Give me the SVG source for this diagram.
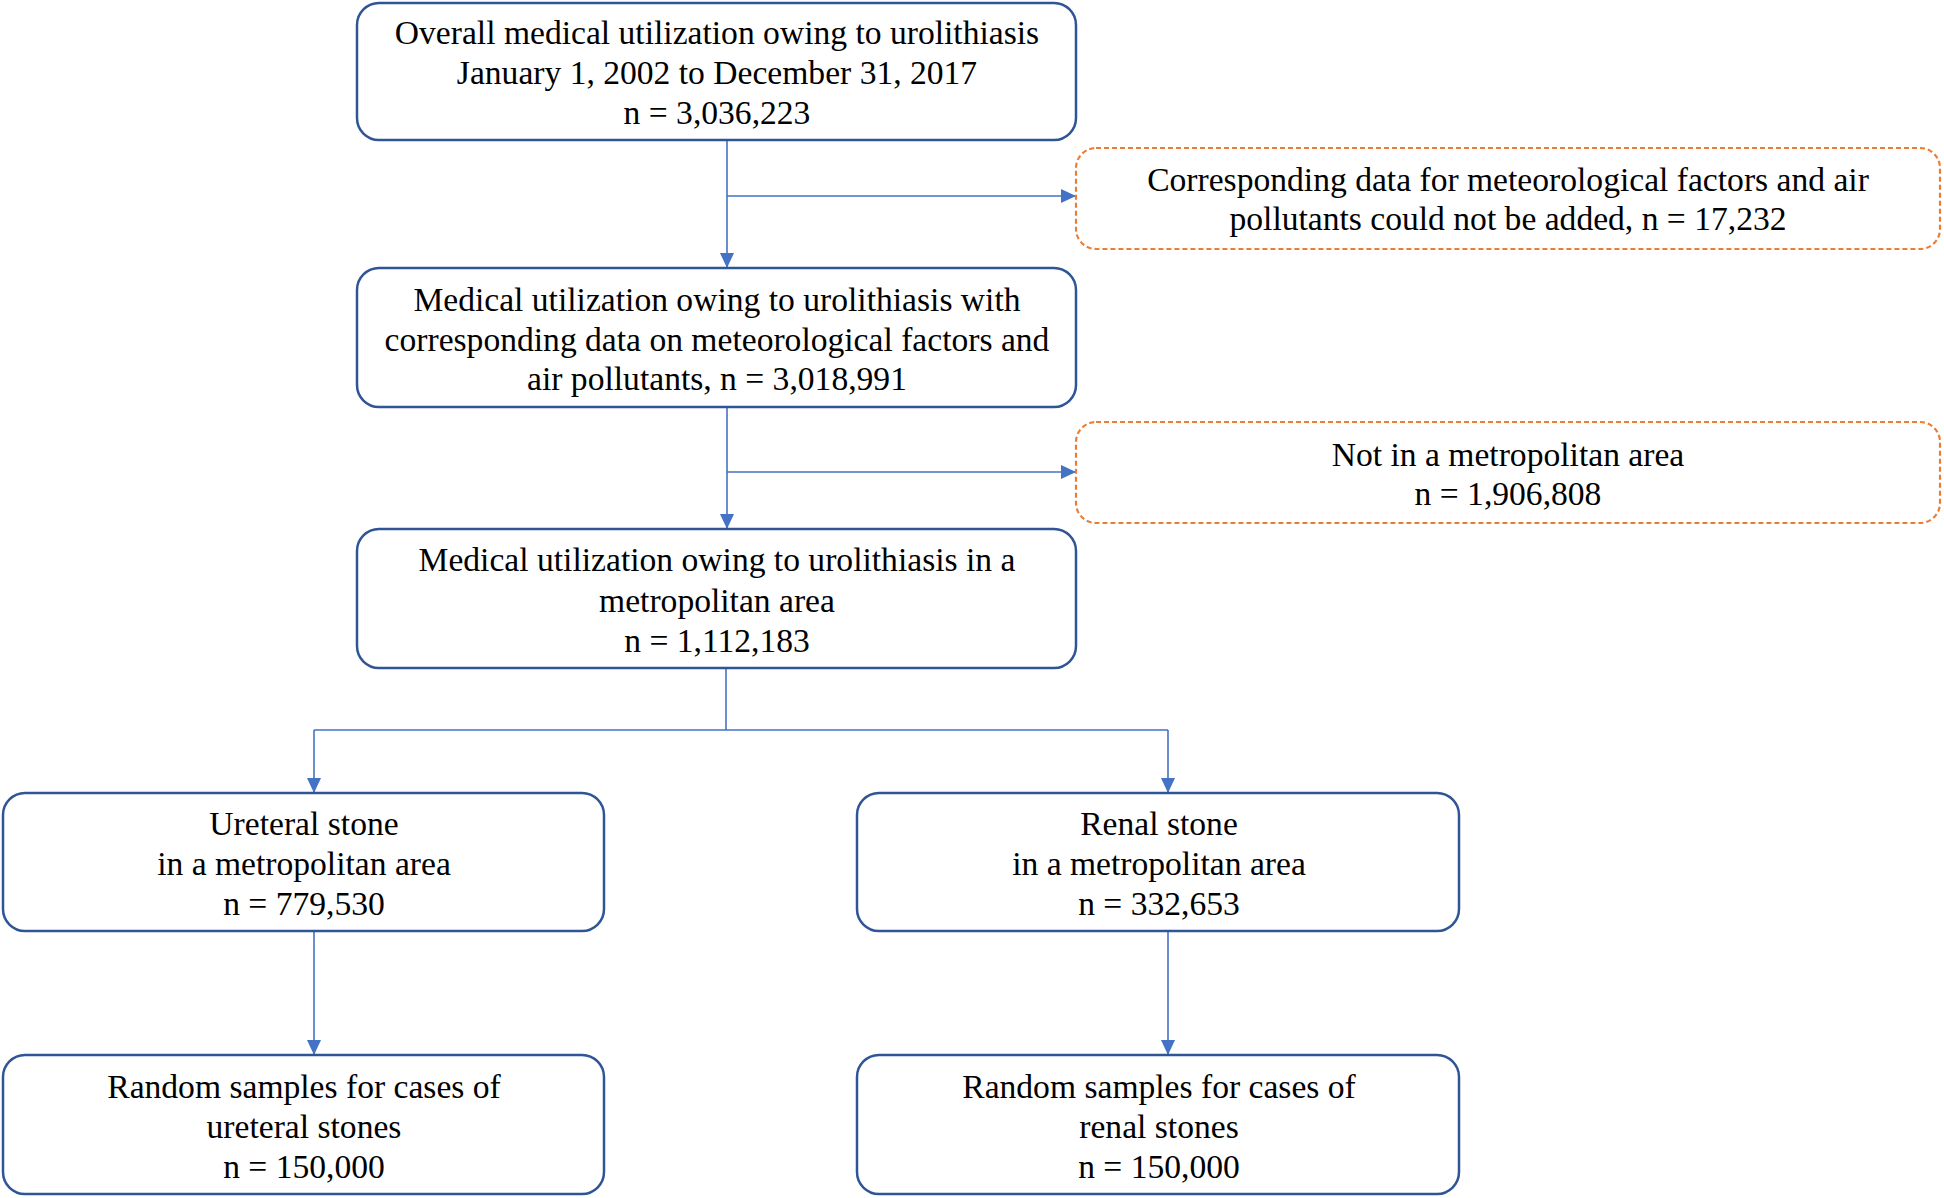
<svg xmlns="http://www.w3.org/2000/svg" width="1944" height="1198" viewBox="0 0 1944 1198">
<style>
.box{fill:#fff;stroke:#2F5597;stroke-width:2.5}
.dbox{fill:#fff;stroke:#ED7D31;stroke-width:2.2;stroke-dasharray:5 3}
.t{font-family:"Liberation Serif","Times New Roman",serif;font-size:33.6px;fill:#000;text-anchor:middle}
.c{fill:none;stroke:#4472C4;stroke-width:1.6}
</style>
<defs>
<marker id="ah" viewBox="0 0 10 10" refX="10" refY="5" markerWidth="15" markerHeight="14" markerUnits="userSpaceOnUse" orient="auto" preserveAspectRatio="none">
<path d="M0,0 L10,5 L0,10 z" fill="#4472C4"/>
</marker>
</defs>
<rect width="1944" height="1198" fill="#fff"/>
<g id="connectors">
<path class="c" d="M727,140 V268" marker-end="url(#ah)"/>
<path class="c" d="M727,196 H1076" marker-end="url(#ah)"/>
<path class="c" d="M727,407 V529" marker-end="url(#ah)"/>
<path class="c" d="M727,472 H1076" marker-end="url(#ah)"/>
<path class="c" d="M726,668 V730"/>
<path class="c" d="M314,730 H1168"/>
<path class="c" d="M314,730 V793" marker-end="url(#ah)"/>
<path class="c" d="M1168,730 V793" marker-end="url(#ah)"/>
<path class="c" d="M314,931 V1055" marker-end="url(#ah)"/>
<path class="c" d="M1168,931 V1055" marker-end="url(#ah)"/>
</g>
<g id="n1">
<rect class="box" x="357" y="3" width="719" height="137" rx="22"/>
<text class="t" x="717" y="44">Overall medical utilization owing to urolithiasis</text>
<text class="t" x="717" y="84">January 1, 2002 to December 31, 2017</text>
<text class="t" x="717" y="124">n = 3,036,223</text>
</g>
<g id="n2">
<rect class="dbox" x="1076" y="148" width="864" height="101" rx="20"/>
<text class="t" x="1508" y="191">Corresponding data for meteorological factors and air</text>
<text class="t" x="1508" y="230">pollutants could not be added, n = 17,232</text>
</g>
<g id="n3">
<rect class="box" x="357" y="268" width="719" height="139" rx="22"/>
<text class="t" x="717" y="311">Medical utilization owing to urolithiasis with</text>
<text class="t" x="717" y="351">corresponding data on meteorological factors and</text>
<text class="t" x="717" y="390">air pollutants, n = 3,018,991</text>
</g>
<g id="n4">
<rect class="dbox" x="1076" y="422" width="864" height="101" rx="20"/>
<text class="t" x="1508" y="466">Not in a metropolitan area</text>
<text class="t" x="1508" y="505">n = 1,906,808</text>
</g>
<g id="n5">
<rect class="box" x="357" y="529" width="719" height="139" rx="22"/>
<text class="t" x="717" y="571">Medical utilization owing to urolithiasis in a</text>
<text class="t" x="717" y="612">metropolitan area</text>
<text class="t" x="717" y="652">n = 1,112,183</text>
</g>
<g id="n6">
<rect class="box" x="3" y="793" width="601" height="138" rx="22"/>
<text class="t" x="304" y="835">Ureteral stone</text>
<text class="t" x="304" y="875">in a metropolitan area</text>
<text class="t" x="304" y="915">n = 779,530</text>
</g>
<g id="n7">
<rect class="box" x="857" y="793" width="602" height="138" rx="22"/>
<text class="t" x="1159" y="835">Renal stone</text>
<text class="t" x="1159" y="875">in a metropolitan area</text>
<text class="t" x="1159" y="915">n = 332,653</text>
</g>
<g id="n8">
<rect class="box" x="3" y="1055" width="601" height="139" rx="22"/>
<text class="t" x="304" y="1098">Random samples for cases of</text>
<text class="t" x="304" y="1138">ureteral stones</text>
<text class="t" x="304" y="1178">n = 150,000</text>
</g>
<g id="n9">
<rect class="box" x="857" y="1055" width="602" height="139" rx="22"/>
<text class="t" x="1159" y="1098">Random samples for cases of</text>
<text class="t" x="1159" y="1138">renal stones</text>
<text class="t" x="1159" y="1178">n = 150,000</text>
</g>
</svg>
